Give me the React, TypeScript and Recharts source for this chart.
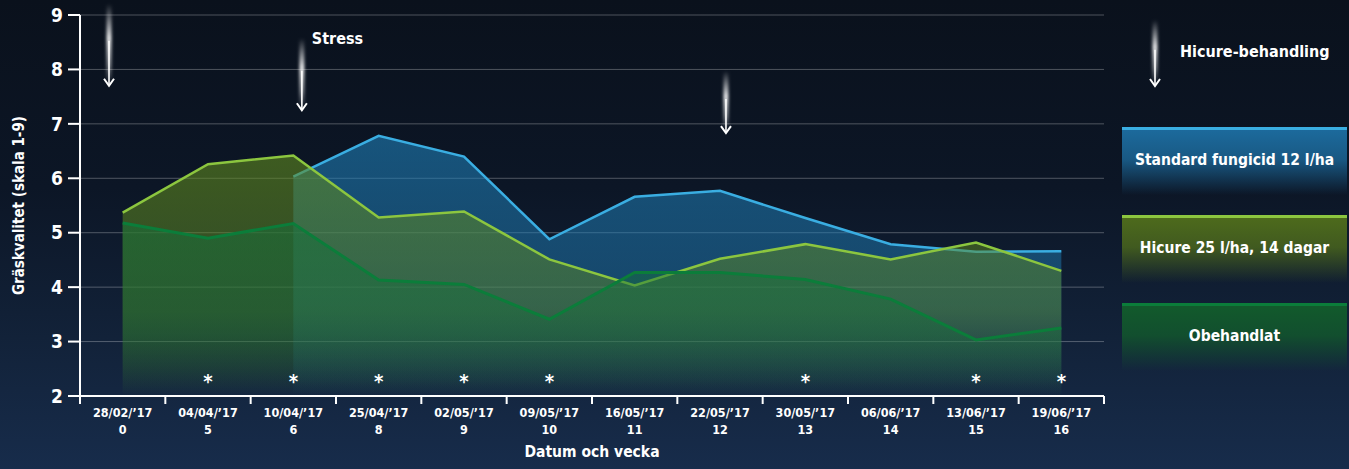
import React from 'react'
import { ComposedChart, Area, Scatter, XAxis, YAxis, CartesianGrid, ReferenceDot } from 'recharts'

const FONT = "'Liberation Sans Narrow', 'DejaVu Sans Condensed', Roboto, sans-serif"

const dates = ['28/02/’17', '04/04/’17', '10/04/’17', '25/04/’17', '02/05/’17', '09/05/’17', '16/05/’17', '22/05/’17', '30/05/’17', '06/06/’17', '13/06/’17', '19/06/’17']
const weeks = [0, 5, 6, 8, 9, 10, 11, 12, 13, 14, 15, 16]
const standard = [null, null, 6.03, 6.78, 6.4, 4.88, 5.66, 5.77, 5.27, 4.79, 4.65, 4.66]
const hicure = [5.37, 6.26, 6.42, 5.28, 5.39, 4.51, 4.03, 4.52, 4.79, 4.51, 4.82, 4.3]
const obehandlat = [5.18, 4.9, 5.17, 4.13, 4.05, 3.41, 4.27, 4.27, 4.14, 3.78, 3.03, 3.25]
const significant = [false, true, true, true, true, true, false, false, true, false, true, true]
const yTicks = [2, 3, 4, 5, 6, 7, 8, 9]
const STAR_Y = 2.33

// Hicure treatments (arrow tip value on the y scale)
const arrows = [
  { x: -0.16, tip: 7.7, len: 82 },
  { x: 2.1, tip: 7.25, len: 72, label: 'Stress' },
  { x: 7.07, tip: 6.83, len: 62 },
]

const series = [
  { key: 'standard', name: 'Standard fungicid 12 l/ha', line: '#3aaee2', fill: '#1f7fb8', op: 0.6, box: '#1c6a9c' },
  { key: 'hicure', name: 'Hicure 25 l/ha, 14 dagar', line: '#8cc63f', fill: '#5f8a1e', op: 0.6, box: '#4d6a1c' },
  { key: 'obehandlat', name: 'Obehandlat', line: '#0b7d3a', fill: '#17703a', op: 0.55, box: '#125a2c' },
]

const data = dates.map((date, i) => ({
  idx: i,
  date,
  week: weeks[i],
  standard: standard[i],
  hicure: hicure[i],
  obehandlat: obehandlat[i],
}))
const stars = data.filter((_, i) => significant[i]).map(d => ({ idx: d.idx, star: STAR_Y }))

const boundaries = [...dates.map((_, i) => i - 0.5), dates.length - 0.5]
const centers = dates.map((_, i) => i)

const NoTick = () => <g />

const DateTick = ({ x, y, payload }: any) => {
  const i = payload.value
  return (
    <text x={x} y={y} textAnchor="middle" fill="#fff" fontSize={12.5} fontWeight={700} fontFamily={FONT}>
      <tspan x={x} dy={11}>{dates[i]}</tspan>
      <tspan x={x} dy={17}>{weeks[i]}</tspan>
    </text>
  )
}

const YLabel = ({ viewBox }: any) => {
  const cx = viewBox.x + 24
  const cy = viewBox.y + viewBox.height / 2
  return (
    <text x={cx} y={cy} transform={`rotate(-90 ${cx} ${cy})`} textAnchor="middle" fill="#fff" fontSize={15} fontWeight={700} fontFamily={FONT}>
      Gräskvalitet (skala 1-9)
    </text>
  )
}

const Star = ({ cx, cy }: any) => (
  <text x={cx} y={cy + 10} textAnchor="middle" fill="#fff" fontSize={20} fontWeight={700} fontFamily={FONT}>*</text>
)

const ArrowMark = ({ cx, cy, len, label, grad = 'glowGrad', blur = 'glowBlur' }: any) => (
  <g>
    <rect x={cx - 2.5} y={cy - len} width={5} height={len - 6} fill={`url(#${grad})`} filter={`url(#${blur})`} />
    <line x1={cx} y1={cy - len * 0.55} x2={cx} y2={cy} stroke="#fff" strokeWidth={1.6} />
    <path d={`M${cx - 5},${cy - 7} L${cx},${cy} L${cx + 5},${cy - 7}`} stroke="#fff" strokeWidth={2} fill="none" />
    {label && (
      <text x={cx + 10} y={cy - 66} fill="#fff" fontSize={16} fontWeight={700} fontFamily={FONT}>{label}</text>
    )}
  </g>
)

const GlowDefs = ({ grad, blur }: { grad: string; blur: string }) => (
  <defs>
    <linearGradient id={grad} x1="0" y1="0" x2="0" y2="1">
      <stop offset="0%" stopColor="#fff" stopOpacity={0} />
      <stop offset="45%" stopColor="#fff" stopOpacity={0.9} />
      <stop offset="80%" stopColor="#fff" stopOpacity={0.5} />
      <stop offset="100%" stopColor="#fff" stopOpacity={0.1} />
    </linearGradient>
    <filter id={blur} x="-200%" y="-20%" width="500%" height="140%">
      <feGaussianBlur stdDeviation={1.6} />
    </filter>
  </defs>
)

export default function App() {
  return (
    <div
      style={{
        position: 'absolute', left: 0, top: 0, width: 1349, height: 469, overflow: 'hidden',
        background: 'linear-gradient(180deg, #0a111c 0%, #0c1626 40%, #122239 72%, #172c4b 100%)',
        fontFamily: FONT,
      }}
    >
      <ComposedChart width={1349} height={469} data={data} margin={{ top: 15, right: 245, left: 0, bottom: 8 }}>
        <GlowDefs grad="glowGrad" blur="glowBlur" />
        <defs>
          {series.map(s => (
            <linearGradient key={s.key} id={`fill-${s.key}`} x1="0" y1="0" x2="0" y2="1">
              <stop offset="0%" stopColor={s.fill} stopOpacity={s.op} />
              <stop offset="65%" stopColor={s.fill} stopOpacity={s.op * 0.7} />
              <stop offset="100%" stopColor={s.fill} stopOpacity={0} />
            </linearGradient>
          ))}
        </defs>
        <CartesianGrid vertical={false} stroke="rgba(255,255,255,0.28)" strokeWidth={1} />
        <XAxis
          type="number"
          dataKey="idx"
          domain={[-0.5, 11.5]}
          ticks={boundaries}
          tick={<NoTick />}
          height={10}
          tickSize={8}
          axisLine={{ stroke: '#fff', strokeWidth: 2 }}
          tickLine={{ stroke: '#fff', strokeWidth: 2 }}
        />
        <XAxis
          xAxisId="lbl"
          type="number"
          dataKey="idx"
          domain={[-0.5, 11.5]}
          ticks={centers}
          tick={<DateTick />}
          tickSize={0}
          tickMargin={0}
          height={55}
          axisLine={false}
          tickLine={false}
          label={{ value: 'Datum och vecka', position: 'insideBottom', offset: 4, fill: '#fff', fontSize: 15.5, fontWeight: 700, fontFamily: FONT }}
        />
        <YAxis
          domain={[2, 9]}
          ticks={yTicks}
          width={80}
          tickSize={12}
          tickMargin={5}
          tick={{ fill: '#fff', fontSize: 19, fontWeight: 700, fontFamily: FONT }}
          axisLine={{ stroke: '#fff', strokeWidth: 2 }}
          tickLine={{ stroke: '#fff', strokeWidth: 2 }}
          label={<YLabel />}
        />
        {series.map(s => (
          <Area
            key={s.key}
            type="linear"
            dataKey={s.key}
            name={s.name}
            stroke={s.line}
            strokeWidth={s.key === 'obehandlat' ? 3 : 2.5}
            fill={`url(#fill-${s.key})`}
            fillOpacity={1}
            dot={false}
            activeDot={false}
            isAnimationActive={false}
          />
        ))}
        <Scatter xAxisId="lbl" data={stars} dataKey="star" shape={<Star />} isAnimationActive={false} />
        {arrows.map((a, i) => (
          <ReferenceDot
            key={i}
            x={a.x}
            y={a.tip}
            ifOverflow="visible"
            shape={(p: any) => <ArrowMark cx={p.cx} cy={p.cy} len={a.len} label={a.label} />}
          />
        ))}
      </ComposedChart>

      {/* legend */}
      <svg width={40} height={100} style={{ position: 'absolute', left: 1135, top: 0 }}>
        <GlowDefs grad="legGrad" blur="legBlur" />
        <ArrowMark cx={20} cy={86} len={66} grad="legGrad" blur="legBlur" />
      </svg>
      <div style={{ position: 'absolute', left: 1180, top: 42, color: '#fff', fontSize: 16, fontWeight: 700 }}>
        Hicure-behandling
      </div>
      {series.map((s, i) => (
        <div
          key={s.key}
          style={{
            position: 'absolute', left: 1122, top: 127 + i * 88, width: 225, height: 68,
            borderTop: `3px solid ${s.line}`,
            background: `linear-gradient(180deg, ${s.box} 0%, ${s.box}cc 45%, ${s.box}00 100%)`,
            color: '#fff', fontSize: 15.5, fontWeight: 700,
            display: 'flex', alignItems: 'center', justifyContent: 'center', paddingBottom: 6, boxSizing: 'border-box',
          }}
        >
          {s.name}
        </div>
      ))}
    </div>
  )
}
